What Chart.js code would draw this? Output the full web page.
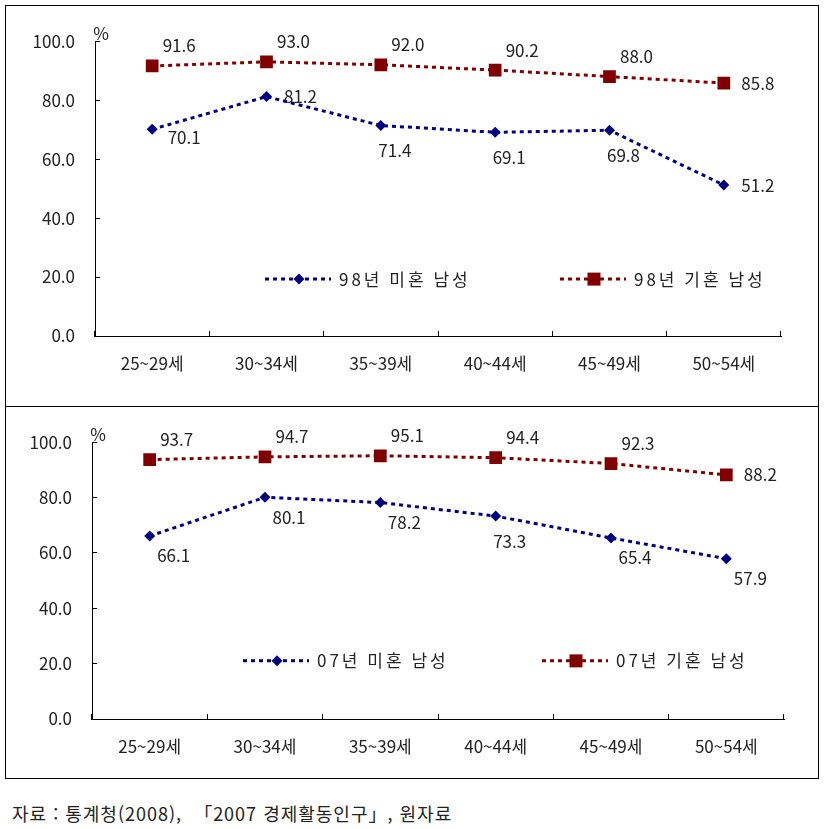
<!DOCTYPE html>
<html lang="ko">
<head>
<meta charset="utf-8">
<script src="https://cdn.jsdelivr.net/npm/chart.js@4.4.1/dist/chart.umd.min.js"></script>
<style>
    body { margin: 0; background: #fff; width: 828px; height: 829px; position: relative; font-family: 'Noto Sans CJK KR', sans-serif; }
    .box { position: absolute; left: 5px; width: 812px; border: 1px solid #000; }
    #boxTop { top: 5px; height: 400px; }
    #boxBottom { top: 406px; height: 371px; }
    .box canvas { display: block; }
    .source { position: absolute; left: 12px; top: 800px; font-size: 18px; letter-spacing: 1px; color: #222; white-space: pre; }
</style>
</head>
<body>
<div class="box" id="boxTop"><canvas id="chartTop" width="812" height="400"></canvas></div>
<div class="box" id="boxBottom"><canvas id="chartBottom" width="812" height="371"></canvas></div>
<div class="source">자료 : 통계청(2008),  「2007 경제활동인구」, 원자료</div>
<script>
// data
const categories = ['25~29세', '30~34세', '35~39세', '40~44세', '45~49세', '50~54세'];
const single98 = [70.1, 81.2, 71.4, 69.1, 69.8, 51.2];
const married98 = [91.6, 93.0, 92.0, 90.2, 88.0, 85.8];
const single07 = [66.1, 80.1, 78.2, 73.3, 65.4, 57.9];
const married07 = [93.7, 94.7, 95.1, 94.4, 92.3, 88.2];
const yMin = 0;
const yMax = 100;
const yStep = 20;

const NAVY = '#000080';
const DARKRED = '#800000';
const TEXT = '#222';
const FONT = "17px 'Noto Sans CJK KR', sans-serif";

// where each value label sits relative to its point
const labelOffsets = {
    r: [34, 0],
    ar: [27, -20],
    rb: [32, 8],
    br: [24, 20],
    b: [14, 25],
};

const valueLabels = {
    id: 'valueLabels',
    afterDatasetsDraw(chart) {
        const ctx = chart.ctx;
        ctx.save();
        ctx.font = FONT;
        ctx.fillStyle = TEXT;
        ctx.textAlign = 'center';
        ctx.textBaseline = 'middle';
        chart.data.datasets.forEach((ds, di) => {
            const meta = chart.getDatasetMeta(di);
            meta.data.forEach((pt, i) => {
                const off = labelOffsets[ds.labelPos[i]];
                ctx.fillText(ds.data[i].toFixed(1), pt.x + off[0], pt.y + off[1]);
            });
        });
        ctx.restore();
    },
};

function drawMarker(ctx, style, x, y, r, color) {
    ctx.fillStyle = color;
    ctx.beginPath();
    if (style === 'rect') {
        ctx.rect(x - r, y - r, 2 * r, 2 * r);
    } else {
        ctx.moveTo(x, y - r);
        ctx.lineTo(x + r, y);
        ctx.lineTo(x, y + r);
        ctx.lineTo(x - r, y);
        ctx.closePath();
    }
    ctx.fill();
}

// legend drawn inside the plot area, like the original
const insideLegend = {
    id: 'insideLegend',
    afterDraw(chart, args, opts) {
        const ctx = chart.ctx;
        const area = chart.chartArea;
        const y = area.top + (area.bottom - area.top) * opts.yFrac;
        ctx.save();
        chart.data.datasets.forEach((ds, i) => {
            const x0 = area.left + opts.xStarts[i];
            ctx.strokeStyle = ds.borderColor;
            ctx.lineWidth = 3;
            ctx.setLineDash(ds.borderDash);
            ctx.beginPath();
            ctx.moveTo(x0, y);
            ctx.lineTo(x0 + 66, y);
            ctx.stroke();
            ctx.setLineDash([]);
            drawMarker(ctx, ds.pointStyle, x0 + 34, y, ds.pointStyle === 'rect' ? 6.5 : 5.5, ds.borderColor);
            ctx.font = FONT;
            ctx.letterSpacing = '3px';
            ctx.fillStyle = TEXT;
            ctx.textAlign = 'left';
            ctx.textBaseline = 'middle';
            ctx.fillText(ds.label, x0 + 74, y);
            ctx.letterSpacing = '0px';
        });
        ctx.restore();
    },
};

const percentSign = {
    id: 'percentSign',
    afterDraw(chart) {
        const ctx = chart.ctx;
        ctx.save();
        ctx.font = FONT;
        ctx.fillStyle = TEXT;
        ctx.textAlign = 'center';
        ctx.textBaseline = 'middle';
        ctx.fillText('%', chart.chartArea.left + 6, chart.chartArea.top - 8);
        ctx.restore();
    },
};

function makeChart(canvasId, singleData, marriedData, year, layout) {
    return new Chart(document.getElementById(canvasId), {
        type: 'line',
        data: {
            labels: categories,
            datasets: [{
                label: year + '년 미혼 남성',
                data: singleData,
                borderColor: NAVY,
                backgroundColor: NAVY,
                borderWidth: 3,
                borderDash: [4, 4],
                pointStyle: 'rectRot',
                pointRadius: 5.5,
                pointBorderWidth: 0,
                tension: 0,
                labelPos: layout.singlePos,
            }, {
                label: year + '년 기혼 남성',
                data: marriedData,
                borderColor: DARKRED,
                backgroundColor: DARKRED,
                borderWidth: 3,
                borderDash: [4, 4],
                pointStyle: 'rect',
                pointRadius: 9,
                pointBorderWidth: 0,
                tension: 0,
                labelPos: layout.marriedPos,
            }],
        },
        options: {
            responsive: false,
            animation: false,
            events: [],
            layout: { padding: { top: layout.top, right: layout.right, left: 0, bottom: 0 } },
            plugins: {
                legend: { display: false },
                tooltip: { enabled: false },
                insideLegend: { yFrac: layout.legendY, xStarts: layout.legendX },
            },
            scales: {
                x: {
                    offset: true,
                    border: { display: true, color: '#000', width: 1 },
                    grid: { offset: true, drawOnChartArea: false, drawTicks: true, tickLength: -5, color: '#000' },
                    ticks: { font: { family: 'Noto Sans CJK KR', size: 17 }, color: TEXT, padding: 22, maxRotation: 0, autoSkip: false },
                    afterFit(scale) { scale.height = layout.xHeight; },
                },
                y: {
                    min: yMin,
                    max: yMax,
                    border: { display: true, color: '#000', width: 1 },
                    grid: { drawOnChartArea: false, drawTicks: true, tickLength: -5, color: '#000' },
                    ticks: {
                        stepSize: yStep,
                        font: { family: 'Noto Sans CJK KR', size: 17 },
                        color: TEXT,
                        padding: 25,
                        callback: (v) => v.toFixed(1),
                    },
                    afterFit(scale) { scale.width = layout.yWidth; },
                },
            },
        },
        plugins: [valueLabels, insideLegend, percentSign],
    });
}

makeChart('chartTop', single98, married98, '98', {
    top: 34, right: 37, yWidth: 89, xHeight: 70,
    legendY: 0.807, legendX: [170, 465],
    singlePos: ['rb', 'r', 'b', 'b', 'b', 'r'],
    marriedPos: ['ar', 'ar', 'ar', 'ar', 'ar', 'r'],
});

makeChart('chartBottom', single07, married07, '07', {
    top: 35, right: 34, yWidth: 86, xHeight: 59,
    legendY: 0.79, legendX: [151, 450],
    singlePos: ['br', 'br', 'br', 'b', 'br', 'br'],
    marriedPos: ['ar', 'ar', 'ar', 'ar', 'ar', 'r'],
});
</script>
</body>
</html>
